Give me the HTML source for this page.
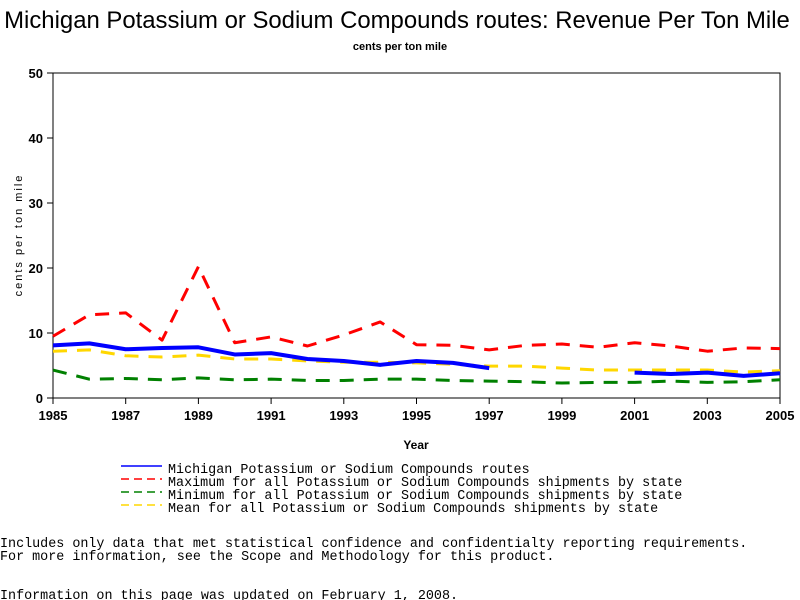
<!DOCTYPE html>
<html><head><meta charset="utf-8"><style>
body{margin:0;background:#fff;}
svg{display:block;}
.m{font-family:"Liberation Mono",monospace;font-size:13.4px;fill:#000;}
.t{font-family:"Liberation Sans",sans-serif;fill:#000;}
</style></head><body>
<svg id="chart" width="800" height="600">
<text class="t" x="397" y="28" font-size="23.9" text-anchor="middle">Michigan Potassium or Sodium Compounds routes: Revenue Per Ton Mile</text>
<text class="t" x="400" y="50" font-size="11" font-weight="bold" text-anchor="middle">cents per ton mile</text>
<rect x="53" y="73" width="727" height="325" fill="none" stroke="#000" stroke-width="1"/>
<g id="axes"></g>
<g id="series"></g>
<text class="t" x="416" y="449" font-size="12" font-weight="bold" text-anchor="middle">Year</text>
<text class="t" x="22" y="235" font-size="11" text-anchor="middle" letter-spacing="2" transform="rotate(-90 22 235)">cents per ton mile</text>
<g>
<line x1="121" y1="466" x2="162" y2="466" stroke="#0000ff" stroke-width="1.5"/>
<text class="m" x="168" y="473">Michigan Potassium or Sodium Compounds routes</text>
<line x1="121" y1="479" x2="162" y2="479" stroke="#ff0000" stroke-width="1.5" stroke-dasharray="8,5"/>
<text class="m" x="168" y="486">Maximum for all Potassium or Sodium Compounds shipments by state</text>
<line x1="121" y1="492" x2="162" y2="492" stroke="#008000" stroke-width="1.5" stroke-dasharray="8,5"/>
<text class="m" x="168" y="499">Minimum for all Potassium or Sodium Compounds shipments by state</text>
<line x1="121" y1="505" x2="162" y2="505" stroke="#ffd700" stroke-width="1.5" stroke-dasharray="8,5"/>
<text class="m" x="168" y="512">Mean for all Potassium or Sodium Compounds shipments by state</text>
</g>
<text class="m" x="0" y="547">Includes only data that met statistical confidence and confidentialty reporting requirements.</text>
<text class="m" x="0" y="560">For more information, see the Scope and Methodology for this product.</text>
<text class="m" x="0" y="599">Information on this page was updated on February 1, 2008.</text>
</svg>
<script>
const years=[1985,1986,1987,1988,1989,1990,1991,1992,1993,1994,1995,1996,1997,1998,1999,2000,2001,2002,2003,2004,2005];
const michigan=[8.1,8.4,7.5,7.7,7.8,6.7,6.9,6.0,5.7,5.1,5.7,5.4,4.6,null,null,null,3.9,3.7,3.9,3.4,3.8];
const maximum=[9.5,12.8,13.1,8.9,20.2,8.5,9.4,8.0,9.7,11.7,8.2,8.1,7.4,8.1,8.3,7.8,8.5,8.0,7.2,7.7,7.6];
const minimum=[4.3,2.9,3.0,2.8,3.1,2.8,2.9,2.7,2.7,2.9,2.9,2.7,2.6,2.5,2.3,2.4,2.4,2.6,2.4,2.5,2.8];
const mean=[7.2,7.4,6.5,6.3,6.6,6.0,6.0,5.7,5.5,5.5,5.4,5.2,4.9,4.9,4.6,4.3,4.3,4.3,4.3,4.0,4.2];
const yTicks=[0,10,20,30,40,50];
const xTicks=[1985,1987,1989,1991,1993,1995,1997,1999,2001,2003,2005];
const NS="http://www.w3.org/2000/svg";
const X=v=>53+(v-1985)*(727/20);
const Y=v=>398-v*6.5;
const axes=document.getElementById('axes');
function mk(tag,attrs,parent){const e=document.createElementNS(NS,tag);for(const k in attrs)e.setAttribute(k,attrs[k]);parent.appendChild(e);return e;}
yTicks.forEach(t=>{
  const l=mk('line',{x1:47,x2:53,y1:Y(t),y2:Y(t),stroke:'#000'},axes);
  
  
  const tx=mk('text',{x:43,y:Y(t)+5,'text-anchor':'end','font-size':13,'font-weight':'bold',class:'t'},axes);
  tx.textContent=t;
  
  
});
xTicks.forEach(t=>{
  const l=mk('line',{x1:X(t),x2:X(t),y1:398,y2:404,stroke:'#000'},axes);
  
  
  const tx=mk('text',{x:X(t),y:420,'text-anchor':'middle','font-size':13,'font-weight':'bold',class:'t'},axes);
  tx.textContent=t;
  
  
});
const sg=document.getElementById('series');
function draw(vals,color,w,dash,name){
  let segs=[],cur=[];
  vals.forEach((v,i)=>{if(v==null){if(cur.length)segs.push(cur);cur=[];}else cur.push([X(years[i]),Y(v)]);});
  if(cur.length)segs.push(cur);
  segs.forEach(s=>{
    const p=mk('polyline',{points:s.map(q=>q.join(',')).join(' '),fill:'none',stroke:color,'stroke-width':w,'stroke-linejoin':'round'},sg);
    if(dash)p.setAttribute('stroke-dasharray',dash);
    
    
  });
}
draw(mean,'#ffd700',3,'14,10','series-mean-line');
draw(minimum,'#008000',3,'14,10','series-minimum-line');
draw(maximum,'#ff0000',3,'14,10','series-maximum-line');
draw(michigan,'#0000ff',4,null,'series-michigan-line');
</script>
</body></html>
